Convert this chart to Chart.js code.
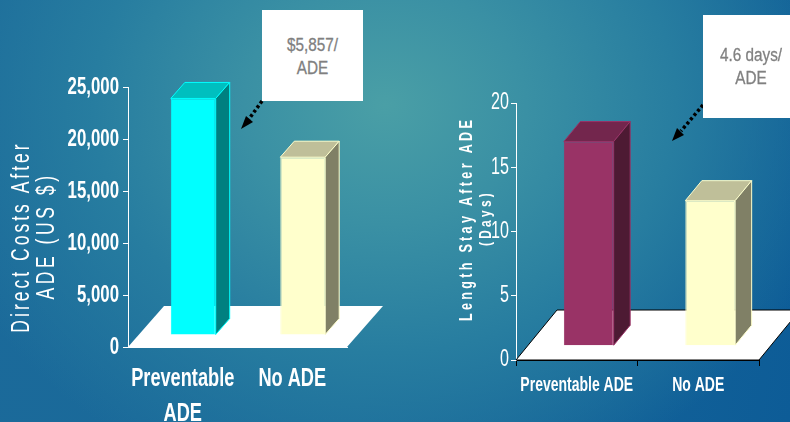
<!DOCTYPE html>
<html>
<head>
<meta charset="utf-8">
<title>Costs and length of stay after ADE</title>
<script src="https://cdn.jsdelivr.net/npm/chart.js@4"></script>
<style>
    html, body { margin: 0; padding: 0; }
    body {
        position: relative;
        width: 790px;
        height: 422px;
        overflow: hidden;
        background:
            radial-gradient(ellipse 470px 400px at 385px 105px, #4a9fa6 0%, #3a90a4 30%, #277da0 62%, rgba(24,106,152,0) 100%),
            linear-gradient(100deg, #1b6a9a 0%, #19699a 50%, #0d5c97 100%);
        font-family: 'Liberation Sans', sans-serif;
    }
    canvas { position: absolute; top: 0; }
    #cost-chart { left: 0; }
    #stay-chart { left: 395px; }
    .callout {
        position: absolute;
        background: #fff;
        color: #808080;
        font-size: 18px;
        line-height: 23px;
        text-align: center;
        box-sizing: border-box;
        -webkit-text-stroke: 0.3px #808080;
    }
    .callout span { display: block; transform: scaleX(0.85); }
    #cost-note { left: 262px; top: 10px; width: 101px; height: 91px; padding-top: 24px; }
    #stay-note { left: 703px; top: 15px; width: 96px; height: 103px; padding-top: 29px; }
    svg { position: absolute; left: 0; top: 0; }
</style>
</head>
<body>
<canvas id="cost-chart" width="395" height="422"></canvas>
<canvas id="stay-chart" width="395" height="422"></canvas>
<svg width="790" height="422">
    <line x1="262" y1="101" x2="249" y2="119" stroke="#000" stroke-width="3.5" stroke-dasharray="3 2.5"/>
    <polygon points="241,129 246,116 253,122" fill="#000"/>
    <line x1="703" y1="105" x2="681" y2="131" stroke="#000" stroke-width="3.5" stroke-dasharray="3 2.5"/>
    <polygon points="672,141 677,128 684,135" fill="#000"/>
</svg>
<div class="callout" id="cost-note"><span>$5,857/<br>ADE</span></div>
<div class="callout" id="stay-note"><span>4.6 days/<br>ADE</span></div>

<script>
const costCategories = [['Preventable', 'ADE'], 'No ADE'];
const costValues = [23900, 18250];
const costBarStart = 1200; // bars stand inside the floor, not on its front edge
const costTicks = [0, 5000, 10000, 15000, 20000, 25000];

const stayCategories = ['Preventable ADE', 'No ADE'];
const stayValues = [17, 12.4];
const stayBarStart = 1.15;
const stayTicks = [0, 5, 10, 15, 20];

const fontFamily = "'Liberation Sans', sans-serif";
const textSqueeze = 0.7; // no condensed font installed, so squeeze the canvas text

function tracePolygon(ctx, points) {
    ctx.beginPath();
    ctx.moveTo(points[0][0], points[0][1]);
    points.slice(1).forEach(p => ctx.lineTo(p[0], p[1]));
    ctx.closePath();
}

// fake 3D look: floor under the bars, top and side faces on each bar, spaced axis titles
const depthPlugin = {
    id: 'depth',
    beforeInit(chart) {
        const ctx = chart.ctx;
        const fillText = ctx.fillText.bind(ctx);
        ctx.fillText = (text, x, y) => {
            ctx.save();
            ctx.translate(x, y);
            ctx.scale(textSqueeze, 1);
            fillText(text, 0, 0);
            ctx.restore();
        };
    },
    afterDatasetsUpdate(chart, args, opts) {
        chart.getDatasetMeta(0).data.forEach(bar => { bar.x += opts.barShift; });
    },
    beforeDatasetsDraw(chart, args, opts) {
        const ctx = chart.ctx;
        const area = chart.chartArea;
        ctx.save();
        tracePolygon(ctx, [
            [area.left, area.bottom],
            [area.right, area.bottom],
            [area.right + opts.floorX, area.bottom - opts.floorY],
            [area.left + opts.floorX, area.bottom - opts.floorY]
        ]);
        ctx.fillStyle = '#fff';
        ctx.fill();
        if (opts.floorLine) {
            ctx.strokeStyle = opts.floorLine;
            ctx.lineWidth = 1;
            ctx.stroke();
        }
        ctx.restore();
    },
    afterDatasetsDraw(chart, args, opts) {
        const ctx = chart.ctx;
        ctx.save();
        ctx.lineWidth = 1;
        chart.getDatasetMeta(0).data.forEach((bar, i) => {
            const p = bar.getProps(['x', 'y', 'base', 'width']);
            const left = p.x - p.width / 2;
            const right = p.x + p.width / 2;
            ctx.strokeStyle = opts.edges[i];
            tracePolygon(ctx, [
                [left, p.y],
                [right, p.y],
                [right + opts.barX, p.y - opts.barY],
                [left + opts.barX, p.y - opts.barY]
            ]);
            ctx.fillStyle = opts.tops[i];
            ctx.fill();
            ctx.stroke();
            tracePolygon(ctx, [
                [right, p.y],
                [right + opts.barX, p.y - opts.barY],
                [right + opts.barX, p.base - opts.barY],
                [right, p.base]
            ]);
            ctx.fillStyle = opts.sides[i];
            ctx.fill();
            ctx.stroke();
        });
        ctx.restore();
    },
    afterDraw(chart, args, opts) {
        const ctx = chart.ctx;
        ctx.save();
        ctx.fillStyle = '#fff';
        ctx.textAlign = 'center';
        ctx.textBaseline = 'middle';
        opts.title.forEach(line => {
            ctx.save();
            ctx.translate(line.x, line.y);
            ctx.rotate(-Math.PI / 2);
            ctx.font = line.font;
            ctx.letterSpacing = line.spacing;
            ctx.fillText(line.text, 0, 0);
            ctx.restore();
        });
        ctx.restore();
    }
};

const costChart = new Chart(document.getElementById('cost-chart'), {
    type: 'bar',
    data: {
        labels: costCategories,
        datasets: [{
            data: costValues,
            base: costBarStart,
            backgroundColor: ['#00ffff', '#ffffcc'],
            borderColor: ['#00ffff', '#ffffcc'],
            borderWidth: 1,
            barPercentage: 0.41,
            categoryPercentage: 1
        }]
    },
    options: {
        responsive: false,
        animation: false,
        layout: { padding: { top: 87, right: 48 } },
        plugins: {
            legend: { display: false },
            tooltip: { enabled: false },
            depth: {
                barShift: 10.5,
                barX: 14,
                barY: 16,
                floorX: 36,
                floorY: 41,
                tops: ['#00bfbf', '#bfbf99'],
                sides: ['#008080', '#808066'],
                edges: ['#00ffff', '#ffffcc'],
                title: [
                    { text: 'Direct Costs After', x: 22, y: 237, font: '25px ' + fontFamily, spacing: '4.3px' },
                    { text: 'ADE (US $)', x: 47, y: 236, font: '25px ' + fontFamily, spacing: '5.1px' }
                ]
            }
        },
        scales: {
            x: {
                afterFit: scale => { scale.height = 75; },
                border: { color: '#fff' },
                grid: { drawOnChartArea: false, drawTicks: false },
                ticks: {
                    color: '#fff',
                    padding: 14,
                    maxRotation: 0,
                    autoSkip: false,
                    font: { family: fontFamily, size: 26, weight: 'bold', lineHeight: 1.35 }
                }
            },
            y: {
                min: 0,
                max: 25000,
                afterFit: scale => { scale.width = 128; },
                afterBuildTicks: scale => { scale.ticks = costTicks.map(v => ({ value: v })); },
                border: { color: '#fff' },
                grid: { drawOnChartArea: false, color: '#fff', tickLength: 5 },
                ticks: {
                    color: '#fff',
                    padding: 4,
                    font: { family: fontFamily, size: 24, weight: 'bold' },
                    callback: v => v.toLocaleString('en-US')
                }
            }
        }
    },
    plugins: [depthPlugin]
});

const stayChart = new Chart(document.getElementById('stay-chart'), {
    type: 'bar',
    data: {
        labels: stayCategories,
        datasets: [{
            data: stayValues,
            base: stayBarStart,
            backgroundColor: ['#993366', '#ffffcc'],
            borderColor: ['#993366', '#ffffcc'],
            borderWidth: 1,
            barPercentage: 0.41,
            categoryPercentage: 1
        }]
    },
    options: {
        responsive: false,
        animation: false,
        layout: { padding: { top: 103, right: 31 } },
        plugins: {
            legend: { display: false },
            tooltip: { enabled: false },
            depth: {
                barShift: 12,
                barX: 16.5,
                barY: 20,
                floorX: 41,
                floorY: 50,
                floorLine: '#000',
                tops: ['#73264d', '#bfbf99'],
                sides: ['#4d1a33', '#808066'],
                edges: ['#993366', '#ffffcc'],
                title: [
                    { text: 'Length Stay After ADE', x: 72.5, y: 219, font: 'bold 18px ' + fontFamily, spacing: '4.7px' },
                    { text: '(Days)', x: 91, y: 218, font: 'bold 17px ' + fontFamily, spacing: '4.7px' }
                ]
            }
        },
        scales: {
            x: {
                afterFit: scale => { scale.height = 62; },
                border: { color: '#000' },
                grid: { drawOnChartArea: false, color: '#000', tickLength: 6 },
                ticks: {
                    color: '#fff',
                    padding: 7,
                    maxRotation: 0,
                    autoSkip: false,
                    font: { family: fontFamily, size: 20, weight: 'bold' }
                }
            },
            y: {
                min: 0,
                max: 20,
                afterFit: scale => { scale.width = 121; },
                afterBuildTicks: scale => { scale.ticks = stayTicks.map(v => ({ value: v })); },
                border: { color: '#fff' },
                grid: { drawOnChartArea: false, color: '#fff', tickLength: 5 },
                ticks: {
                    color: '#fff',
                    padding: 2,
                    font: { family: fontFamily, size: 23 }
                }
            }
        }
    },
    plugins: [depthPlugin]
});
</script>
</body>
</html>
